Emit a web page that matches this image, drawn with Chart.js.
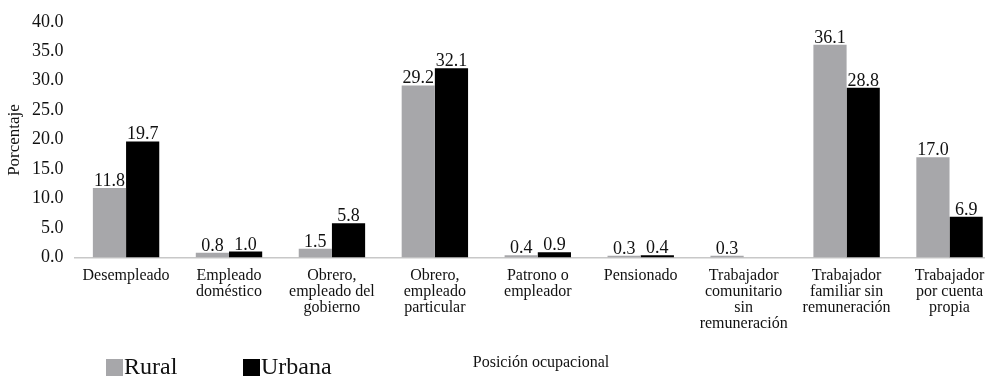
<!DOCTYPE html>
<html lang="es">
<head>
<meta charset="utf-8">
<title>Posición ocupacional por área</title>
<script src="https://cdn.jsdelivr.net/npm/chart.js@4/dist/chart.umd.min.js"></script>
<style>
  html, body { margin: 0; padding: 0; background: #fff; overflow: hidden; }
  #wrap { position: relative; width: 1001px; height: 377px; }
</style>
</head>
<body>
<div id="wrap"><canvas id="chart"></canvas></div>
<script>
// Categorías (cada etiqueta dividida en líneas)
const categories = [
  ["Desempleado"],
  ["Empleado", "doméstico"],
  ["Obrero,", "empleado del", "gobierno"],
  ["Obrero,", "empleado", "particular"],
  ["Patrono o", "empleador"],
  ["Pensionado"],
  ["Trabajador", "comunitario", "sin", "remuneración"],
  ["Trabajador", "familiar sin", "remuneración"],
  ["Trabajador", "por cuenta", "propia"]
];

// Porcentajes por área
const rural  = [11.8, 0.8, 1.5, 29.2, 0.4, 0.3, 0.3, 36.1, 17.0];
const urbana = [19.7, 1.0, 5.8, 32.1, 0.9, 0.4, null, 28.8, 6.9];

const seriesNames = ["Rural", "Urbana"];
const yTicks = [0, 5, 10, 15, 20, 25, 30, 35, 40];

const axisTitleX = "Posición ocupacional";
const axisTitleY = "Porcentaje";

const SERIF = "'Liberation Serif', 'Times New Roman', serif";
const TEXT = "#111111";

// Valores encima de cada barra
const valueLabels = {
  id: "valueLabels",
  afterDatasetsDraw(chart) {
    const ctx = chart.ctx;
    ctx.save();
    ctx.font = "18px " + SERIF;
    ctx.fillStyle = TEXT;
    ctx.textAlign = "center";
    ctx.textBaseline = "alphabetic";
    chart.data.datasets.forEach((ds, i) => {
      const meta = chart.getDatasetMeta(i);
      meta.data.forEach((bar, j) => {
        const v = ds.data[j];
        if (v === null || v === undefined) return;
        ctx.fillText(v.toFixed(1), bar.x, bar.y - 2);
      });
    });
    ctx.restore();
  }
};

// Títulos de ejes y leyenda inferior
const extras = {
  id: "extras",
  afterDraw(chart) {
    const ctx = chart.ctx;
    ctx.save();
    ctx.fillStyle = TEXT;

    // Título eje Y
    ctx.font = "17px " + SERIF;
    ctx.translate(15, 140);
    ctx.rotate(-Math.PI / 2);
    ctx.textAlign = "center";
    ctx.textBaseline = "middle";
    ctx.fillText(axisTitleY, 0, 0);
    ctx.setTransform(1, 0, 0, 1, 0, 0);

    // Título eje X
    ctx.font = "16px " + SERIF;
    ctx.textAlign = "center";
    ctx.textBaseline = "middle";
    ctx.fillText(axisTitleX, 541, 363);

    // Leyenda
    const xs = [106, 243];
    ctx.font = "24px " + SERIF;
    ctx.textAlign = "left";
    chart.data.datasets.forEach((ds, i) => {
      ctx.fillStyle = ds.backgroundColor;
      ctx.fillRect(xs[i], 359, 17, 17);
      ctx.fillStyle = TEXT;
      ctx.fillText(ds.label, xs[i] + 18, 368);
    });
    ctx.restore();
  }
};

new Chart(document.getElementById("chart"), {
  type: "bar",
  data: {
    labels: categories,
    datasets: [
      { label: seriesNames[0], data: rural,  backgroundColor: "#a7a7aa" },
      { label: seriesNames[1], data: urbana, backgroundColor: "#000000" }
    ]
  },
  options: {
    responsive: true,
    maintainAspectRatio: false,
    animation: false,
    layout: { padding: { top: 10, right: 0, bottom: 0, left: 0 } },
    datasets: {
      bar: { categoryPercentage: 0.645, barPercentage: 1.0 }
    },
    plugins: {
      legend: { display: false },
      tooltip: { enabled: false }
    },
    scales: {
      x: {
        grid: { display: false, drawTicks: false },
        border: { display: true, color: "#c8c8c8", width: 1.5 },
        ticks: {
          autoSkip: false,
          maxRotation: 0,
          minRotation: 0,
          padding: 10,
          color: TEXT,
          font: { family: SERIF, size: 16, lineHeight: 1.0 }
        },
        afterFit(scale) { scale.height = 119.5; }
      },
      y: {
        min: 0,
        max: 40,
        afterBuildTicks(scale) { scale.ticks = yTicks.map(v => ({ value: v })); },
        grid: { display: false, drawTicks: false },
        border: { display: false },
        ticks: {
          padding: 11,
          color: TEXT,
          font: { family: SERIF, size: 18 },
          callback: v => Number(v).toFixed(1)
        },
        afterFit(scale) { scale.width = 74.6; }
      }
    }
  },
  plugins: [valueLabels, extras]
});
</script>
</body>
</html>
